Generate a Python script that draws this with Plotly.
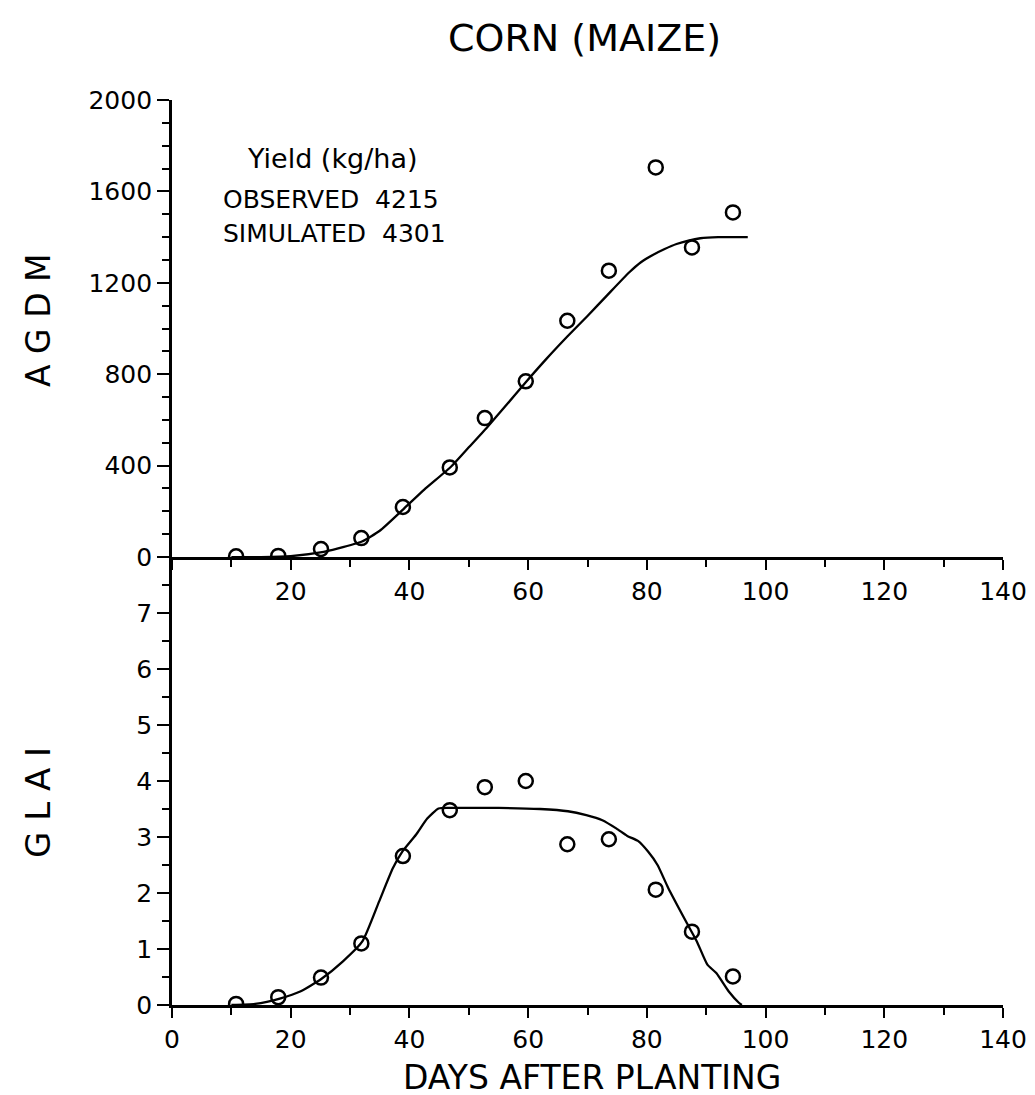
import plotly.graph_objects as go
from plotly.subplots import make_subplots

# ---------------- data ----------------
obs_days = [10.8, 17.9, 25.1, 31.9, 38.9, 46.8, 52.7, 59.6, 66.6, 73.6, 81.5, 87.6, 94.5]
agdm_obs = [3, 5, 35, 83, 219, 392, 608, 769, 1034, 1253, 1705, 1355, 1508]
glai_obs = [0.02, 0.14, 0.49, 1.10, 2.66, 3.48, 3.89, 4.00, 2.87, 2.96, 2.06, 1.31, 0.51]

sim_agdm_days = [10, 15, 20, 25, 28, 32, 35, 39, 42.5, 47, 50, 53, 56, 59.6, 63, 66.6,
                 70, 73.3, 77, 79, 81, 83, 85, 87, 89, 92, 97]
sim_agdm = [0, 0, 4, 20, 38, 68, 115, 210, 295, 395, 480, 565, 655, 765, 865, 965,
            1055, 1145, 1245, 1290, 1322, 1348, 1370, 1385, 1395, 1400, 1400]

sim_glai_days = [10, 14, 18.3, 21.6, 25.2, 28.8, 32.1, 34.9, 37.2, 38.8, 41.1, 43, 44.9, 47,
                 55, 62, 66.7, 69.8, 72.5, 74.9, 76.7, 78.5, 80.2, 81.8, 83.6, 86.6, 88.4,
                 90.2, 91.7, 93.8, 95.5, 96]
sim_glai = [0, 0.02, 0.12, 0.24, 0.47, 0.78, 1.14, 1.85, 2.44, 2.74, 3.04, 3.33, 3.51, 3.52,
            3.52, 3.50, 3.46, 3.39, 3.30, 3.15, 3.02, 2.93, 2.74, 2.50, 2.09, 1.49, 1.14,
            0.72, 0.57, 0.24, 0.04, 0]

x_ticks = [0, 20, 40, 60, 80, 100, 120, 140]
agdm_ticks = [0, 400, 800, 1200, 1600, 2000]
glai_ticks = [0, 1, 2, 3, 4, 5, 6, 7]

title_text = "CORN (MAIZE)"
x_title = "DAYS AFTER PLANTING"
agdm_title = "A G D M"
glai_title = "G L A I"
yield_lines = ["Yield (kg/ha)", "OBSERVED  4215", "SIMULATED  4301"]

# ---------------- figure ----------------
FONT = "DejaVu Sans"
INK = "black"

fig = make_subplots(rows=2, cols=1, vertical_spacing=0.0, shared_xaxes=False)

fig.add_trace(go.Scatter(x=sim_agdm_days, y=sim_agdm, mode="lines",
                         line=dict(color=INK, width=2.3, shape="spline", smoothing=0.5),
                         showlegend=False), row=1, col=1)
fig.add_trace(go.Scatter(x=obs_days, y=agdm_obs, mode="markers",
                         marker=dict(symbol="circle-open", size=14, color=INK,
                                     line=dict(width=2.5, color=INK)),
                         showlegend=False), row=1, col=1)
fig.add_trace(go.Scatter(x=sim_glai_days, y=sim_glai, mode="lines",
                         line=dict(color=INK, width=2.3, shape="spline", smoothing=0.5),
                         showlegend=False), row=2, col=1)
fig.add_trace(go.Scatter(x=obs_days, y=glai_obs, mode="markers",
                         marker=dict(symbol="circle-open", size=14, color=INK,
                                     line=dict(width=2.5, color=INK)),
                         showlegend=False), row=2, col=1)

tickfont = dict(family=FONT, size=25, color=INK)
common_x = dict(range=[0, 140], tickvals=x_ticks, ticks="outside", ticklen=10, tickwidth=2.2,
                tickcolor=INK, showline=True, linecolor=INK, linewidth=2.8, showgrid=False,
                zeroline=False, tickfont=tickfont,
                minor=dict(dtick=10, tick0=0, ticks="outside", ticklen=7, tickwidth=2,
                           tickcolor=INK, showgrid=False))
common_y = dict(ticks="outside", ticklen=12, tickwidth=2.2, tickcolor=INK, showline=True,
                linecolor=INK, linewidth=2.8, showgrid=False, zeroline=False,
                tickfont=tickfont)

fig.update_xaxes(common_x, row=1, col=1)
fig.update_xaxes(common_x, row=2, col=1)
fig.update_xaxes(ticktext=[""] + [str(v) for v in x_ticks[1:]], row=1, col=1)
fig.update_xaxes(ticktext=[str(v) for v in x_ticks], row=2, col=1)

fig.update_yaxes(common_y, row=1, col=1)
fig.update_yaxes(range=[0, 2000], tickvals=agdm_ticks,
                 minor=dict(dtick=100, tick0=0, ticks="outside", ticklen=7, tickwidth=2,
                            tickcolor=INK, showgrid=False), row=1, col=1)
fig.update_yaxes(common_y, row=2, col=1)
fig.update_yaxes(range=[0, 8], tickvals=glai_ticks,
                 minor=dict(dtick=0.5, tick0=0, ticks="outside", ticklen=7, tickwidth=2,
                            tickcolor=INK, showgrid=False), row=2, col=1)

# domains: top panel 2000 at y=92 px, shared 0 line at y=549, bottom 0 at y=997
fig.update_layout(yaxis=dict(domain=[0.495, 1.0]), yaxis2=dict(domain=[0.0, 0.495]))

fig.update_layout(
    width=1035, height=1095,
    margin=dict(l=164, r=40, t=92, b=98),
    paper_bgcolor="white", plot_bgcolor="white",
    font=dict(family=FONT, color=INK),
)

PW = 1035 - 164 - 40


def px_x(p):
    return (p - 164) / PW


def px_y(p):
    return (997 - p) / 905


fig.add_annotation(text=title_text, x=px_x(576), y=px_y(30), xref="paper", yref="paper",
                   showarrow=False, font=dict(family=FONT, size=38, color=INK),
                   xanchor="center", yanchor="middle")
fig.add_annotation(text=x_title, x=px_x(584), y=px_y(1069), xref="paper", yref="paper",
                   showarrow=False, font=dict(family=FONT, size=33, color=INK),
                   xanchor="center", yanchor="middle")
fig.add_annotation(text=agdm_title, x=px_x(30), y=px_y(312),
                   xref="paper", yref="paper", textangle=-90, showarrow=False,
                   font=dict(family=FONT, size=33, color=INK),
                   xanchor="center", yanchor="middle")
fig.add_annotation(text=glai_title, x=px_x(30), y=px_y(795),
                   xref="paper", yref="paper", textangle=-90, showarrow=False,
                   font=dict(family=FONT, size=34, color=INK),
                   xanchor="center", yanchor="middle")

fig.add_annotation(text=yield_lines[0], x=27.0, y=1745, xref="x", yref="y",
                   showarrow=False, font=dict(family=FONT, size=27, color=INK),
                   xanchor="center", yanchor="middle")
fig.add_annotation(text=yield_lines[1], x=8.2, y=1565, xref="x", yref="y",
                   showarrow=False, font=dict(family=FONT, size=25, color=INK),
                   xanchor="left", yanchor="middle")
fig.add_annotation(text=yield_lines[2], x=8.2, y=1415, xref="x", yref="y",
                   showarrow=False, font=dict(family=FONT, size=25, color=INK),
                   xanchor="left", yanchor="middle")

fig.write_html("out.html")
